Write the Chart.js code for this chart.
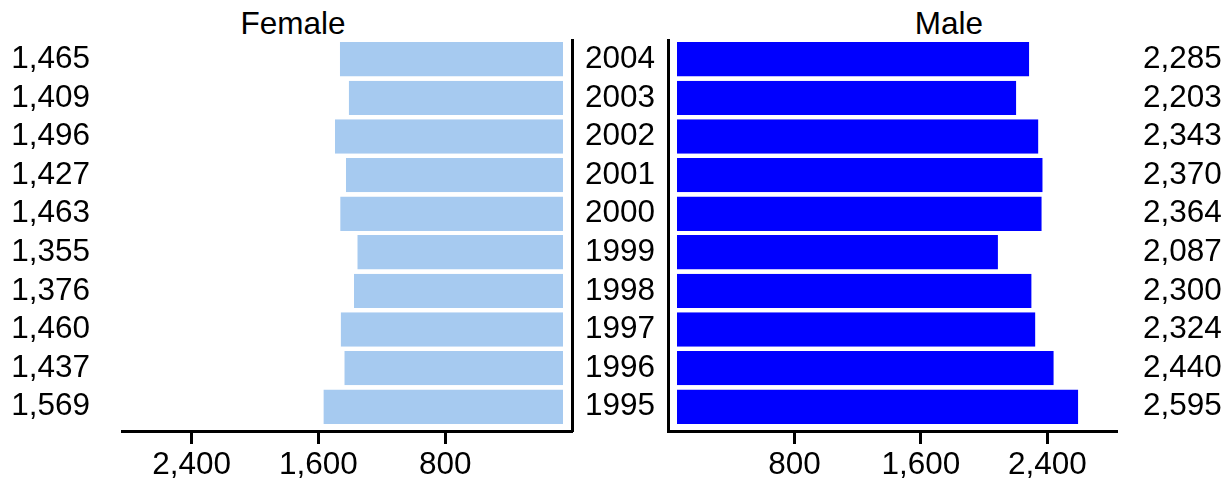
<!DOCTYPE html>
<html>
<head>
<meta charset="utf-8">
<script src="https://cdn.jsdelivr.net/npm/chart.js@4"></script>
<style>
  body { margin: 0; background: #fff; overflow: hidden; }
  .box { position: absolute; top: 0; height: 478px; }
  .title { position: absolute; top: 8px; width: 200px; text-align: center;
           font: 31.5px 'Liberation Sans', Arial, sans-serif; line-height: 31px; color: #000; }
</style>
</head>
<body>
<div class="title" style="left:193px">Female</div>
<div class="title" style="left:849px">Male</div>
<div class="box" style="left:0;width:580px"><canvas id="fem" width="580" height="478"></canvas></div>
<div class="box" style="left:580px;width:651px"><canvas id="mal" width="651" height="478"></canvas></div>
<script>
// values, 1995 -> 2004
var years = ['1995', '1996', '1997', '1998', '1999', '2000', '2001', '2002', '2003', '2004'];
var female = [1569, 1437, 1460, 1376, 1355, 1463, 1427, 1496, 1409, 1465];
var male = [2595, 2440, 2324, 2300, 2087, 2364, 2370, 2343, 2203, 2285];
var xTicks = [800, 1600, 2400];
var xMax = 2840;

Chart.defaults.font.family = "'Liberation Sans', Arial, sans-serif";
Chart.defaults.font.size = 31.5;
Chart.defaults.color = '#000';

function fmt(v) { return Number(v).toLocaleString('en-US'); }

// category spacing in the original is a bit tighter than the plot box
var tighten = {
  id: 'tighten',
  afterLayout: function (chart) {
    Object.values(chart.scales).forEach(function (s) {
      if (s.axis === 'y') s._length -= 5;
    });
  }
};

function noPad(s) { s.paddingTop = 0; s.paddingBottom = 0; s.paddingLeft = 0; s.paddingRight = 0; }

function xScale(reverse) {
  return {
    type: 'linear', min: 0, max: xMax, reverse: reverse,
    afterBuildTicks: function (s) { s.ticks = xTicks.map(function (v) { return { value: v }; }); },
    afterFit: function (s) { s.height = 47; noPad(s); },
    border: { display: true, color: '#000', width: 3, z: 1 },
    grid: { drawOnChartArea: false, drawTicks: true, tickLength: 13, tickWidth: 3, tickColor: '#000' },
    ticks: { padding: 2, maxRotation: 0, autoSkip: false, callback: function (v) { return fmt(v); } }
  };
}

function yScale(pos, width, showBorder, pad, cb) {
  return {
    type: 'category', position: pos, reverse: true,
    afterFit: function (s) { s.width = width; noPad(s); },
    border: { display: showBorder, color: '#000', width: 3, z: 1 },
    grid: { display: false, drawTicks: false },
    ticks: { display: pad !== null, padding: pad || 0, autoSkip: false, callback: cb }
  };
}

var common = {
  responsive: false,
  animation: false,
  indexAxis: 'y',
  layout: { padding: { top: 40, bottom: 0, left: 0, right: 0 } },
  plugins: { legend: { display: false }, tooltip: { enabled: false } }
};

new Chart(document.getElementById('fem'), {
  type: 'bar',
  data: {
    labels: years,
    datasets: [{
      data: female,
      backgroundColor: '#a6caf0',
      borderColor: '#fff',
      borderSkipped: false,
      borderWidth: { top: 0, bottom: 0, left: 0, right: 9 },
      barPercentage: 0.89,
      categoryPercentage: 1
    }]
  },
  options: Object.assign({}, common, {
    scales: {
      x: xScale(true),
      y: yScale('left', 122, false, 32, function (v, i) { return fmt(female[i]); }),
      y2: yScale('right', 8, true, null)
    }
  }),
  plugins: [tighten]
});

new Chart(document.getElementById('mal'), {
  type: 'bar',
  data: {
    labels: years,
    datasets: [{
      data: male,
      backgroundColor: '#0000ff',
      borderColor: '#fff',
      borderSkipped: false,
      borderWidth: { top: 0, bottom: 0, left: 9, right: 0 },
      barPercentage: 0.89,
      categoryPercentage: 1
    }]
  },
  options: Object.assign({}, common, {
    scales: {
      x: xScale(false),
      y: yScale('left', 88, true, 13, function (v, i) { return years[i]; }),
      y2: yScale('right', 114, false, 26, function (v, i) { return fmt(male[i]); })
    }
  }),
  plugins: [tighten]
});
</script>
</body>
</html>
